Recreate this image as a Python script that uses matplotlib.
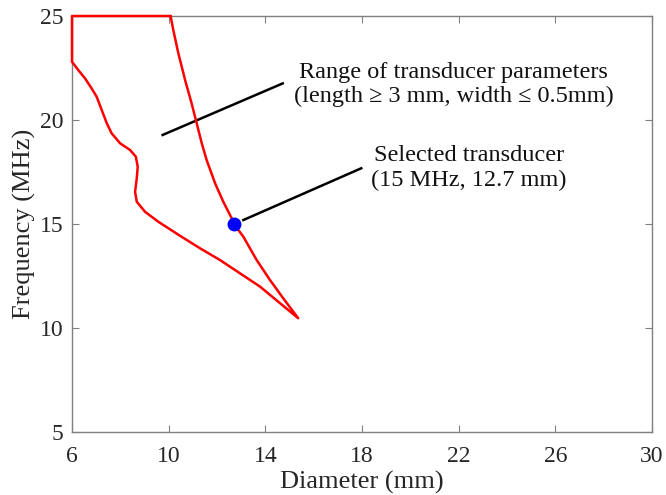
import numpy as np
import matplotlib
matplotlib.use("Agg")
import matplotlib.pyplot as plt

## Feasible region boundary (diameter in mm, frequency in MHz),
## traced clockwise from the top-right corner
diam = [10.08, 10.19, 10.40, 10.68, 10.95, 11.16, 11.37, 11.57, 11.92, 12.26, 12.61, 12.70,
        13.09, 13.64, 14.19, 14.74, 15.36,
        14.61, 13.78, 12.95, 12.12, 11.30, 10.38, 9.57, 9.02,
        8.68, 8.61, 8.68, 8.72, 8.64, 8.40, 7.99, 7.64, 7.44, 7.23, 7.02, 6.81, 6.54, 6.26,
        6.00, 6.00, 10.08]
freq = [25.00, 24.33, 23.21, 21.92, 20.80, 19.84, 18.88, 18.08, 16.96, 16.07, 15.27, 15.00,
        14.39, 13.27, 12.31, 11.43, 10.47,
        11.19, 11.99, 12.63, 13.27, 13.83, 14.50, 15.11, 15.59,
        16.07, 16.55, 17.20, 17.76, 18.24, 18.56, 18.88, 19.36, 19.84, 20.48, 21.12, 21.52, 22.00, 22.40,
        22.80, 25.00, 25.00]

## Chosen design point
sel_diam, sel_freq = 12.7, 15.0

## Leader lines for the two labels
lead1_x, lead1_y = [9.75, 14.72], [19.28, 21.76]
lead2_x, lead2_y = [13.09, 17.97], [15.19, 17.68]

xticks = [6, 10, 14, 18, 22, 26, 30]
yticks = [5, 10, 15, 20, 25]

plt.rcParams["font.family"] = ["Liberation Serif", "DejaVu Serif"]

fig = plt.figure(figsize=(6.66, 4.95), dpi=100)
ax = fig.add_axes([72/666, 1-432/495, 580/666, 416/495])

ax.plot(diam, freq, "-", color="#ff0000", lw=1.8, clip_on=False, zorder=3,
        solid_joinstyle="round", solid_capstyle="round")
ax.plot(sel_diam, sel_freq, "o", color="#0000ff", ms=9, zorder=4)
ax.plot(lead1_x, lead1_y, "k-", lw=1.8)
ax.plot(lead2_x, lead2_y, "k-", lw=1.8)

fs = 17.5
ax.text(21.8, 21.71, "Range of transducer parameters\n(length \u2265 3 mm, width \u2264 0.5mm)",
        ha="center", va="center", fontsize=fs, linespacing=1.2, color="#111111")
ax.text(22.43, 17.69, "Selected transducer\n(15 MHz, 12.7 mm)",
        ha="center", va="center", fontsize=fs, linespacing=1.2, color="#111111")

ax.set_xlim(6, 30)
ax.set_ylim(5, 25)
ax.set_xticks(xticks)
ax.set_yticks(yticks)
ax.set_xlabel("Diameter (mm)", fontsize=19, labelpad=3, color="#262626")
ax.set_ylabel("Frequency (MHz)", fontsize=19, labelpad=3, color="#262626")

gray = "#808080"
for s in ax.spines.values():
    s.set_color(gray)
    s.set_linewidth(1.0)
ax.tick_params(direction="in", top=True, right=True, length=5, width=0.8,
               color=gray, labelsize=17, labelcolor="#262626")
ax.tick_params(axis="x", pad=10)
ax.tick_params(axis="y", pad=6)

fig.savefig("out.png", dpi=100)
